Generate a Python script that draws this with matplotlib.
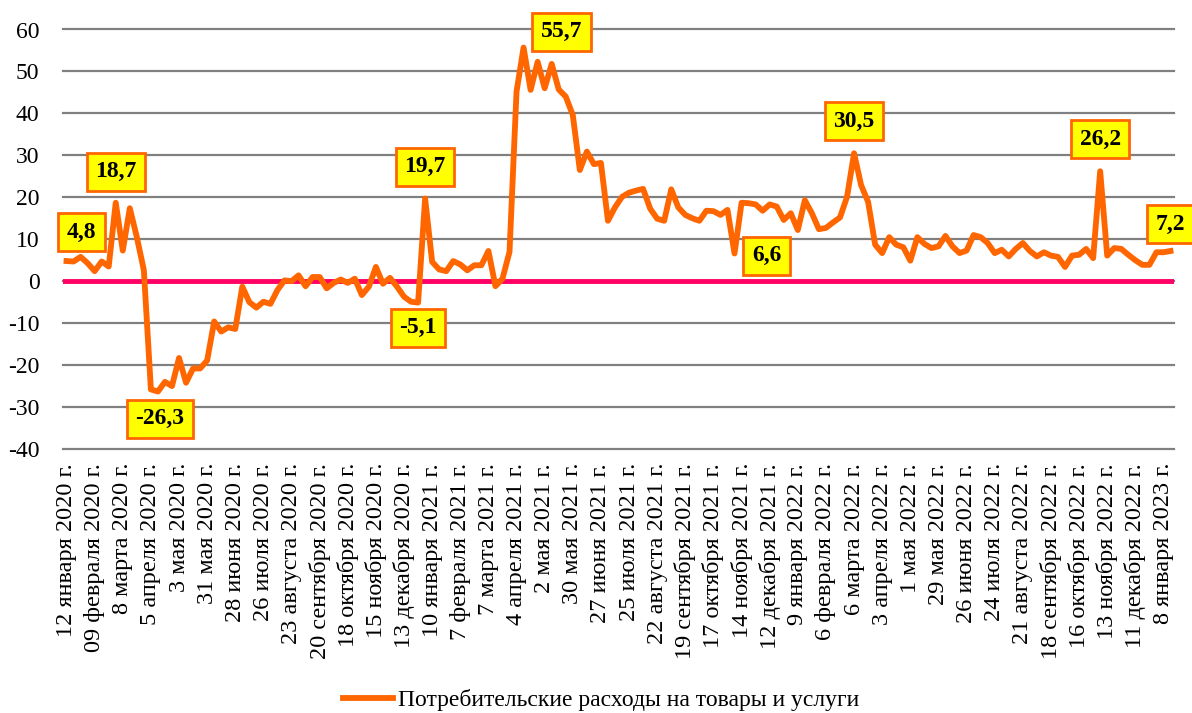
import matplotlib.pyplot as plt
import numpy as np

# weekly values, 12 Jan 2020 .. 15 Jan 2023
values = [
    4.8, 4.7, 5.8, 4.3, 2.4, 4.7, 3.5, 18.7, 7.3, 17.4,
    10.5, 2.6, -25.8, -26.3, -24.0, -25.0, -18.3, -24.2, -20.8, -20.8,
    -18.9, -9.6, -12.0, -11.0, -11.4, -1.3, -5.0, -6.3, -4.9, -5.4,
    -2.1, 0.2, 0.0, 1.4, -1.2, 1.0, 1.0, -1.7, -0.4, 0.4,
    -0.4, 0.6, -3.3, -1.3, 3.4, -0.6, 0.8, -1.3, -3.7, -4.9,
    -5.1, 19.7, 4.6, 2.8, 2.4, 4.8, 4.0, 2.6, 3.8, 3.8,
    7.2, -1.2, 0.6, 7.0, 45.2, 55.7, 45.6, 52.3, 46.0, 51.8,
    45.7, 44.0, 39.6, 26.5, 30.9, 27.9, 28.2, 14.4, 17.6, 20.1,
    21.1, 21.6, 22.0, 17.3, 14.9, 14.4, 21.9, 17.6, 15.8, 15.0,
    14.4, 16.8, 16.7, 15.8, 17.0, 6.6, 18.7, 18.6, 18.3, 16.8,
    18.3, 17.8, 14.6, 16.2, 12.2, 19.3, 16.2, 12.4, 12.7, 14.0,
    15.2, 20.1, 30.5, 22.9, 18.9, 8.7, 6.7, 10.5, 8.7, 8.1,
    4.9, 10.5, 8.9, 7.9, 8.3, 10.8, 8.3, 6.7, 7.3, 11.0,
    10.5, 9.1, 6.7, 7.5, 5.9, 7.7, 9.1, 7.2, 5.9, 6.9,
    6.1, 5.8, 3.4, 6.1, 6.3, 7.7, 5.5, 26.2, 6.1, 7.9,
    7.7, 6.3, 5.0, 3.9, 3.9, 6.9, 6.9, 7.2,
]

tick_labels = [
    "12 января 2020 г.", "09 февраля 2020 г.", "8 марта 2020 г.", "5 апреля 2020 г.",
    "3 мая 2020 г.", "31 мая 2020 г.", "28 июня 2020 г.", "26 июля 2020 г.",
    "23 августа 2020 г.", "20 сентября 2020 г.", "18 октября 2020 г.", "15 ноября 2020 г.",
    "13 декабря 2020 г.", "10 января 2021 г.", "7 февраля 2021 г.", "7 марта 2021 г.",
    "4 апреля 2021 г.", "2 мая 2021 г.", "30 мая 2021 г.", "27 июня 2021 г.",
    "25 июля 2021 г.", "22 августа 2021 г.", "19 сентября 2021 г.", "17 октября 2021 г.",
    "14 ноября 2021 г.", "12 декабря 2021 г.", "9 января 2022 г.", "6 февраля 2022 г.",
    "6 марта 2022 г.", "3 апреля 2022 г.", "1 мая 2022 г.", "29 мая 2022 г.",
    "26 июня 2022 г.", "24 июля 2022 г.", "21 августа 2022 г.", "18 сентября 2022 г.",
    "16 октября 2022 г.", "13 ноября 2022 г.", "11 декабря 2022 г.", "8 января 2023 г.",
]

series_name = "Потребительские расходы на товары и услуги"

# labelled points: index in series and label offset (pixels)
label_idx = [0, 7, 13, 50, 51, 65, 95, 112, 147, 157]
label_off = [(15, 29), (0, 31), (2, -27), (0, -25), (0, 32),
             (38, 16), (32, -2), (0, 32), (0, 32), (0, 27)]

plt.rcParams['font.family'] = ['Liberation Serif', 'DejaVu Serif']
plt.rcParams['axes.unicode_minus'] = False

fig = plt.figure(figsize=(11.92, 7.13), dpi=100)
ax = fig.add_axes([63 / 1192, 1 - 449 / 713, 1111 / 1192, 419.5 / 713])

x = np.arange(len(values))
ax.plot(x, values, color="#FF6600", lw=4.2, solid_joinstyle="round", zorder=3,
        label=series_name)
ax.axhline(0, color="#FF0066", lw=3.5, zorder=2)

ax.set_xlim(-0.5, len(values) - 0.5)
ax.set_ylim(-40, 60)
ax.set_yticks(np.arange(-40, 61, 10))
ax.yaxis.grid(True, color="#808080", lw=1.6, clip_on=False)
ax.set_axisbelow(True)
for s in ax.spines.values():
    s.set_visible(False)

ax.set_xticks(x[::4])
ax.set_xticklabels(tick_labels, rotation=90, fontsize=17.5)
ax.tick_params(axis="x", length=0, pad=10)
ax.tick_params(axis="y", length=0, pad=17, labelsize=17)

for i, (dx, dy) in zip(label_idx, label_off):
    txt = f"{values[i]:.1f}".replace(".", ",")
    ax.annotate(txt, xy=(i, values[i]), xytext=(dx, dy), textcoords="offset pixels",
                ha="center", va="center", fontsize=17, fontweight="bold",
                annotation_clip=False, zorder=5,
                bbox=dict(boxstyle="square,pad=0.36", fc="#FFFF00", ec="#FF6600", lw=2))

fig.legend(loc="center", bbox_to_anchor=(601 / 1192, 1 - 700 / 713), frameon=False,
           fontsize=17, handlelength=2.1, handletextpad=0.2)

fig.savefig("out.png", dpi=100)
